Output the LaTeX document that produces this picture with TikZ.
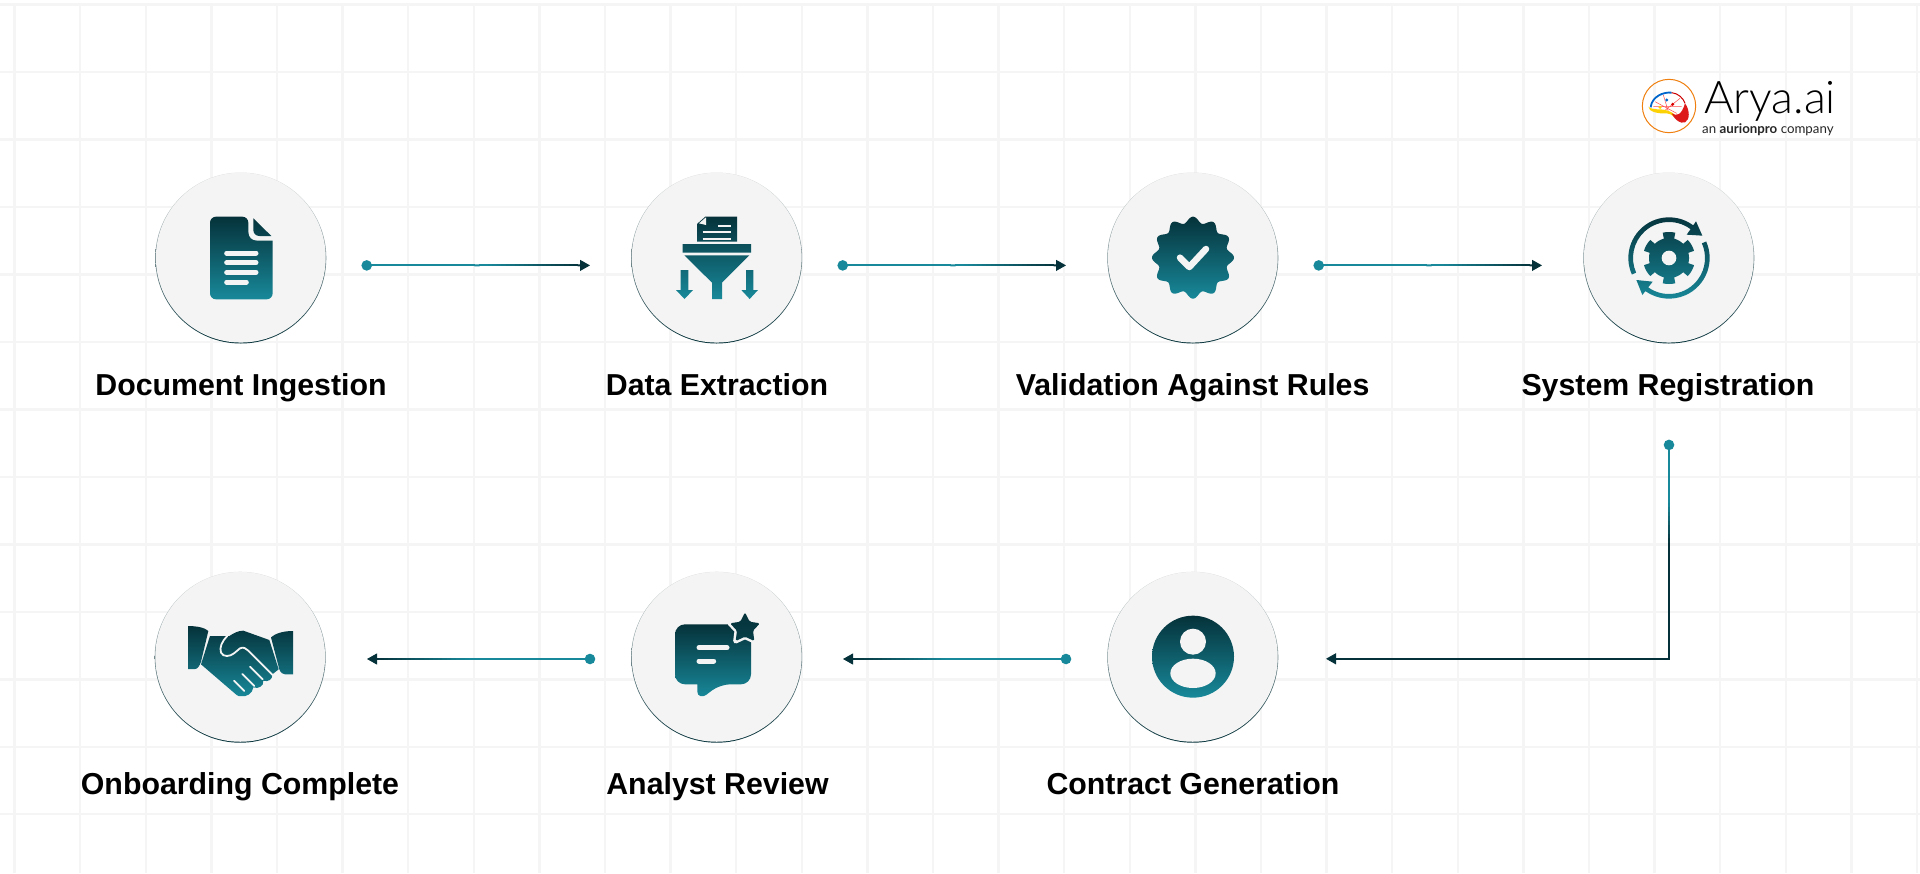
\documentclass[tikz,border=0pt]{standalone}
\usepackage{fontspec}
\setmainfont{Liberation Sans}
\newfontfamily\logofont{Lato Light}
\newfontfamily\logosub{Lato}
\usetikzlibrary{arrows.meta,calc}
\definecolor{ldark}{HTML}{05323A}
\definecolor{lteal}{HTML}{18899A}
\definecolor{gridc}{HTML}{F5F5F5}
\definecolor{disc}{HTML}{F4F4F4}
\tikzset{
  gridline/.style={draw=gridc,line width=2.4pt},
  stepdisc/.style={circle,minimum size=171pt,inner sep=0pt,top color=black!12,middle color=black!45,bottom color=ldark},
  iconfill/.style={top color=ldark,bottom color=lteal},
  lightstroke/.style={draw=disc,line cap=round,line join=round},
  steplabel/.style={anchor=base,font=\bfseries\fontsize{30.3}{36}\selectfont,text=black,inner sep=0pt},
  startdot/.style={circle,fill=lteal,minimum size=10.6pt,inner sep=0pt},
  flow/.style={draw=ldark,line width=1pt,-{Triangle[length=10pt,width=11pt]}},
}
% gradient overlay on a connector: teal until fraction #3, dark from fraction #4
\newcommand\gradrun[4]{%
  \foreach \i in {0,...,47}{%
    \pgfmathsetmacro\pa{\i/48}%
    \pgfmathsetmacro\pb{(\i+1.2)/48}%
    \pgfmathsetmacro\pc{100*min(1,max(0,(#4-\pa)/(#4-#3)))}%
    \draw[line width=2pt,color=lteal!\pc!ldark] ($(#1)!\pa!(#2)$) -- ($(#1)!\pb!(#2)$);
  }}
\begin{document}
\begin{tikzpicture}[x=1pt,y=-1pt]
\useasboundingbox (0,0) rectangle (1920,873);
\fill[white] (0,0) rectangle (1920,873);
% grid
\foreach \k in {0,...,29} \draw[gridline] ({14.5+65.6*\k},4.5) -- ({14.5+65.6*\k},873);
\foreach \k in {0,...,12} \draw[gridline] (0,{4.5+67.48*\k}) -- (1920,{4.5+67.48*\k});

% discs
\foreach \n/\x/\y in {n1/240.8/258,n2/716.7/258,n3/1192.8/258,n4/1668.8/258,n5/1192.8/657.2,n6/716.7/657.2,n7/240.2/657.2}{
  \node[stepdisc] (\n) at (\x,\y) {};
  \fill[disc] ($(\n.center)+(0,-0.35)$) circle (84.9);
}

% labels
\node[steplabel] (l1) at (241,395) {Document Ingestion};
\node[steplabel] (l2) at (717,395) {Data Extraction};
\node[steplabel] (l3) at (1192.6,395) {Validation Against Rules};
\node[steplabel] (l4) at (1668,395) {System Registration};
\node[steplabel] (l5) at (1193,794) {Contract Generation};
\node[steplabel] (l6) at (717.5,794) {Analyst Review};
\node[steplabel] (l7) at (240,794) {Onboarding Complete};

% connectors
\node[startdot] (d1) at (366.7,265.4) {}; \coordinate (e1) at (590,265.4);
\node[startdot] (d2) at (842.7,265.4) {}; \coordinate (e2) at (1066,265.4);
\node[startdot] (d3) at (1318.7,265.4) {}; \coordinate (e3) at (1542,265.4);
\node[startdot] (d4) at (1669,444.9) {}; \coordinate (c4) at (1669,658.8); \coordinate (e4) at (1326,658.8);
\node[startdot] (d5) at (1066,659) {}; \coordinate (e5) at (843,659);
\node[startdot] (d6) at (590,659) {}; \coordinate (e6) at (367,659);
\draw[flow] (d1) -- (e1);
\draw[flow] (d2) -- (e2);
\draw[flow] (d3) -- (e3);
\draw[flow] (d4) |- (e4);
\draw[flow] (d5) -- (e5);
\draw[flow] (d6) -- (e6);
\coordinate (g1) at ($(e1)+(-8,0)$); \gradrun{d1}{g1}{0.55}{0.98}
\coordinate (g2) at ($(e2)+(-8,0)$); \gradrun{d2}{g2}{0.55}{0.98}
\coordinate (g3) at ($(e3)+(-8,0)$); \gradrun{d3}{g3}{0.55}{0.98}
\gradrun{d4}{c4}{0.26}{0.45}
\coordinate (g4) at ($(e4)+(8,0)$); \draw[line width=2pt,ldark,line cap=rect] (c4) -- (g4);
\coordinate (g5) at ($(e5)+(8,0)$); \gradrun{d5}{g5}{0.55}{0.98}
\coordinate (g6) at ($(e6)+(8,0)$); \gradrun{d6}{g6}{0.55}{0.98}

% document icon
\begin{scope}[shift={(130,150)},scale=1/3]
\shade[iconfill] [rounded corners=6pt] (240,320) -- (240,200) -- (355,200) [sharp corners] -- (355,245) .. controls (355,262) and (365,272) .. (382,272) -- (428,272) [rounded corners=6pt] -- (428,448) -- (240,448) -- cycle
  [sharp corners] (370,205) -- (424,258) -- (388,258) .. controls (378,258) and (370,250) .. (370,240) -- cycle;
\draw[lightstroke,line width=5pt] (290,309) -- (378,309) (290,338) -- (378,338) (290,367) -- (378,367) (290,396) -- (349,396);
\end{scope}

% funnel icon
\begin{scope}[shift={(620,160)},scale=1/3]
\shade[iconfill] (256,170) -- (351,170) -- (351,245) -- (231,245) -- (231,192) -- cycle
  (188,252) -- (393,252) -- (393,278) -- (188,278) -- cycle
  (193,286) -- (388,286) -- (306,368) -- (306,417) -- (276,417) -- (276,368) -- cycle
  (182,330) -- (205,330) -- (205,390) -- (219,390) -- (193.5,417) -- (168,390) -- (182,390) -- cycle
  (378,330) -- (400,330) -- (400,390) -- (414,390) -- (389,417) -- (364,390) -- (378,390) -- cycle;
\fill[disc] (237,190) -- (258,172) -- (258,195) -- cycle;
\draw[draw=disc,line width=1.7pt] (295,198) -- (332,198) (248,217) -- (332,217) (248,236) -- (332,236);
\end{scope}

% badge icon
\begin{scope}[shift={(1100,160)},scale=1/3]
\shade[iconfill] plot[domain=0:360,samples=241] ({279+(114+9*cos(12*\x))*cos(\x)},{293+(114+9*cos(12*\x))*sin(\x)}) -- cycle;
\draw[lightstroke,line width=6.5pt] (240,293) -- (268,321) -- (318,267);
\end{scope}

% gear icon
\begin{scope}[shift={(1570,60)},scale=1/3]
\shade[iconfill]
  plot[domain=0:360,samples=361] ({297+((-cos(6*\x)>0.03)?78:60)*cos(\x)},{594+((-cos(6*\x)>0.03)?78:60)*sin(\x)}) -- cycle
  (297,594) ++(156:122) arc[start angle=156,end angle=318,radius=122] -- ++(318:-14) arc[start angle=318,end angle=156,radius=108] -- cycle
  (378,484) -- (397,527) -- (350,524) -- cycle
  (297,594) ++(-24:122) arc[start angle=-24,end angle=125,radius=122] -- ++(125:-14) arc[start angle=125,end angle=-24,radius=108] -- cycle
  (199,660) -- (248,665) -- (217,705) -- cycle;
\fill[disc] (297,594) circle (22);
\end{scope}

% person icon
\begin{scope}[shift={(1100,560)},scale=1/3]
\shade[iconfill] (279,290) circle (123);
\fill[disc] (279,245) circle (39);
\fill[disc] (279,340) ellipse (68 and 44);
\end{scope}

% chat icon
\begin{scope}[shift={(620,560)},scale=1/3]
\shade[iconfill] [rounded corners=10pt] (165,280) -- (165,193) -- (393,193) -- (393,373) -- (300,373) [sharp corners] -- (258,405) .. controls (248,412) and (232,410) .. (232,395) -- (232,373) [rounded corners=10pt] -- (165,373) -- cycle;
\draw[disc,fill=disc,line width=5pt,line join=round] (375,157) -- (389,185) -- (420,190) -- (399,212) -- (403,243) -- (375,230) -- (347,243) -- (351,212) -- (330,190) -- (361,185) -- cycle;
\shade[top color=ldark,bottom color=ldark!85!lteal,rounded corners=1.5pt] (375,157) -- (389,185) -- (420,190) -- (399,212) -- (403,243) -- (375,230) -- (347,243) -- (351,212) -- (330,190) -- (361,185) -- cycle;
\draw[lightstroke,line width=5pt] (237,263) -- (321,263) (237,303) -- (281,303);
\end{scope}

% handshake icon
\begin{scope}[shift={(140,560)},scale=1/3]
\shade[iconfill]
  (144,198) .. controls (170,198) and (195,203) .. (205,213) -- (183,305) .. controls (178,320) and (172,327) .. (165,327) -- (144,327) -- cycle
  (459,213) -- (459,343) -- (435,343) .. controls (428,343) and (422,338) .. (418,328) -- (393,232) .. controls (405,222) and (425,213) .. (459,213) -- cycle
  (210,228) -- (268,228) .. controls (280,220) and (295,212) .. (310,212) -- (388,240) -- (416,328) -- (397,343) .. controls (398,358) and (385,367) .. (370,362) .. controls (372,378) and (355,388) .. (340,382) .. controls (338,400) and (320,412) .. (303,408) .. controls (298,410) and (295,408) .. (290,405) -- (183,313) -- cycle;
\draw[lightstroke,line width=1.8pt] (262,228) .. controls (245,245) and (238,262) .. (243,278) .. controls (250,292) and (270,290) .. (282,280) -- (300,265) .. controls (310,260) and (318,265) .. (325,272) -- (398,345);
\draw[lightstroke,line width=1.8pt] (330,320) -- (368,358) (307,342) -- (343,378) (282,362) -- (313,393);
\end{scope}

% logo
\begin{scope}[shift={(1630,70)},scale=1/3]
\draw[draw=orange!75!brown,line width=1pt] (117,108) circle (80);
\fill[white] (62,110) .. controls (65,80) and (100,66) .. (125,68) .. controls (150,70) and (165,90) .. (165,110) -- (150,150) -- (110,125) -- cycle;
\draw[red!70!white,line width=.5pt] (75,95) -- (140,130) (100,75) -- (115,125) (150,85) -- (100,125) (70,110) -- (155,110);
\fill[yellow!70!orange] (55,110) .. controls (55,125) and (85,132) .. (110,130) .. controls (125,130) and (135,145) .. (150,155) .. controls (135,125) and (110,118) .. (85,118) .. controls (70,118) and (60,115) .. (55,110) -- cycle;
\fill[red!85!black!90!white] (165,100) .. controls (180,120) and (180,150) .. (165,157) .. controls (150,162) and (135,150) .. (125,130) .. controls (140,140) and (155,135) .. (165,100) -- cycle;
\draw[blue!50!cyan!80!black,line width=1.8pt] (62,112) .. controls (65,80) and (100,65) .. (125,68);
\draw[red!80!black,line width=1pt] (125,68) .. controls (145,70) and (160,85) .. (165,100);
\fill[blue!50!cyan!80!black] (110,90) circle (5);
\fill[red!85!black] (128,103) circle (5);
\fill[yellow!70!orange] (90,112) circle (5);
\end{scope}
\node[anchor=base west,inner sep=0pt,font=\logofont\fontsize{45}{50}\selectfont,text=black] (logo) at (1704,113) {Arya.ai};
\node[anchor=base west,inner sep=0pt,font=\logosub\fontsize{13.3}{16}\selectfont,text=black!85] (sub) at (1702,133) {an \textbf{aurionpro} company};
\end{tikzpicture}
\end{document}
